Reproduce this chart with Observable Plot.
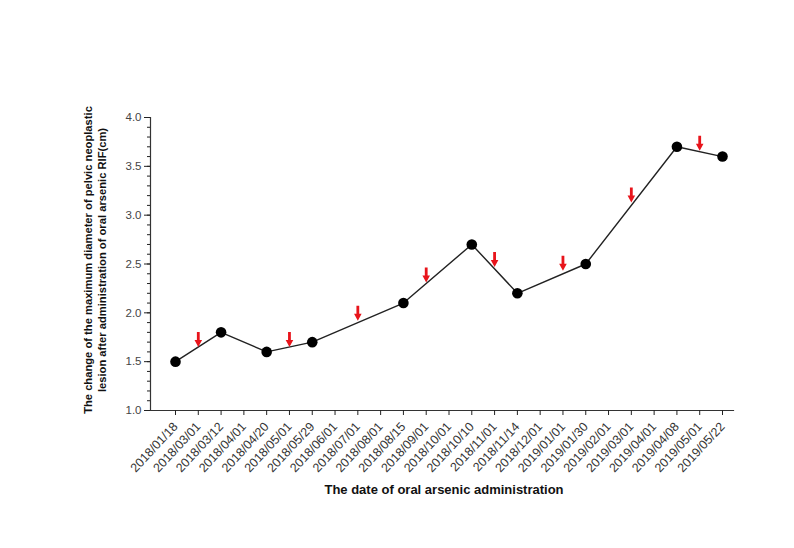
<!DOCTYPE html>
<html>
<head>
<meta charset="utf-8">
<script src="https://cdn.jsdelivr.net/npm/d3@7"></script>
<script src="https://cdn.jsdelivr.net/npm/@observablehq/plot@0.6"></script>
<style>
  html, body { margin: 0; padding: 0; background: #fff; }
  #chart { width: 794px; height: 548px; }
</style>
</head>
<body>
<div id="chart"></div>
<script>
const dates = [
  "2018/01/18","2018/03/01","2018/03/12","2018/04/01","2018/04/20","2018/05/01",
  "2018/05/29","2018/06/01","2018/07/01","2018/08/01","2018/08/15","2018/09/01",
  "2018/10/01","2018/10/10","2018/11/01","2018/11/14","2018/12/01","2019/01/01",
  "2019/01/30","2019/02/01","2019/03/01","2019/04/01","2019/04/08","2019/05/01",
  "2019/05/22"
];
const measureDates = ["2018/01/18","2018/03/12","2018/04/20","2018/05/29","2018/08/15",
  "2018/10/10","2018/11/14","2019/01/30","2019/04/08","2019/05/22"];
const measureValues = [1.5, 1.8, 1.6, 1.7, 2.1, 2.7, 2.2, 2.5, 3.7, 3.6];
const arrowDates = ["2018/03/01","2018/05/01","2018/07/01","2018/09/01","2018/11/01",
  "2019/01/01","2019/03/01","2019/05/01"];
const arrowValues = [1.65, 1.65, 1.92, 2.31, 2.47, 2.43, 3.13, 3.66];
const yMajorTicks = [1.0, 1.5, 2.0, 2.5, 3.0, 3.5, 4.0];
const yMinorTicks = d3.range(10, 41).map(v => v / 10);
const yTitle = "The change of the maximum diameter of pelvic neoplastic\nlesion after administration of oral arsenic RIF(cm)";
const xTitle = "The date of oral arsenic administration";

const measures = measureDates.map((d, i) => ({date: d, value: measureValues[i]}));
const arrows = arrowDates.map((d, i) => ({date: d, value: arrowValues[i]}));

const arrowSymbol = {
  draw(ctx) {
    ctx.moveTo(-1.4, -15);
    ctx.lineTo(1.4, -15);
    ctx.lineTo(1.4, -7);
    ctx.lineTo(3.8, -7);
    ctx.lineTo(0, 0);
    ctx.lineTo(-3.8, -7);
    ctx.lineTo(-1.4, -7);
    ctx.closePath();
  }
};

const chart = Plot.plot({
  width: 794,
  height: 548,
  marginLeft: 150,
  marginRight: 61,
  marginTop: 117,
  marginBottom: 138,
  style: {fontFamily: "'Liberation Sans', Arial, sans-serif", color: "#222", background: "#fff"},
  x: {type: "point", domain: dates, range: [175, 722], padding: 0, round: false, label: null},
  y: {domain: [1, 4], label: null},
  marks: [
    Plot.frame({anchor: "left", stroke: "#333", strokeWidth: 1.2}),
    Plot.frame({anchor: "bottom", stroke: "#333", strokeWidth: 1.2}),
    Plot.axisY({ticks: yMajorTicks, tickFormat: d3.format(".1f"), tickSize: 6, tickPadding: 3, fontSize: 11.5, fill: "#444", label: null}),
    Plot.axisY({ticks: yMinorTicks, tickFormat: () => "", tickSize: 3, label: null}),
    Plot.axisX({tickRotate: -47, tickSize: 5, tickPadding: 9, fontSize: 12.5, fill: "#333", label: null}),
    Plot.line(measures, {x: "date", y: "value", stroke: "#222", strokeWidth: 1.4}),
    Plot.dot(measures, {x: "date", y: "value", r: 5.3, fill: "#000", stroke: "none"}),
    Plot.dot(arrows, {x: "date", y: "value", symbol: arrowSymbol, fill: "#e8141b", stroke: "none"}),
    Plot.text([yTitle], {frameAnchor: "left", dx: -56, dy: -4, rotate: -90, textAnchor: "middle", text: d => d, fontSize: 11.2, fontWeight: "bold", fill: "#111", lineHeight: 1.3}),
    Plot.text([xTitle], {frameAnchor: "bottom", dx: 2, dy: 83, text: d => d, fontSize: 13, fontWeight: "bold", fill: "#111"})
  ]
});
document.getElementById("chart").appendChild(chart);
</script>
</body>
</html>
